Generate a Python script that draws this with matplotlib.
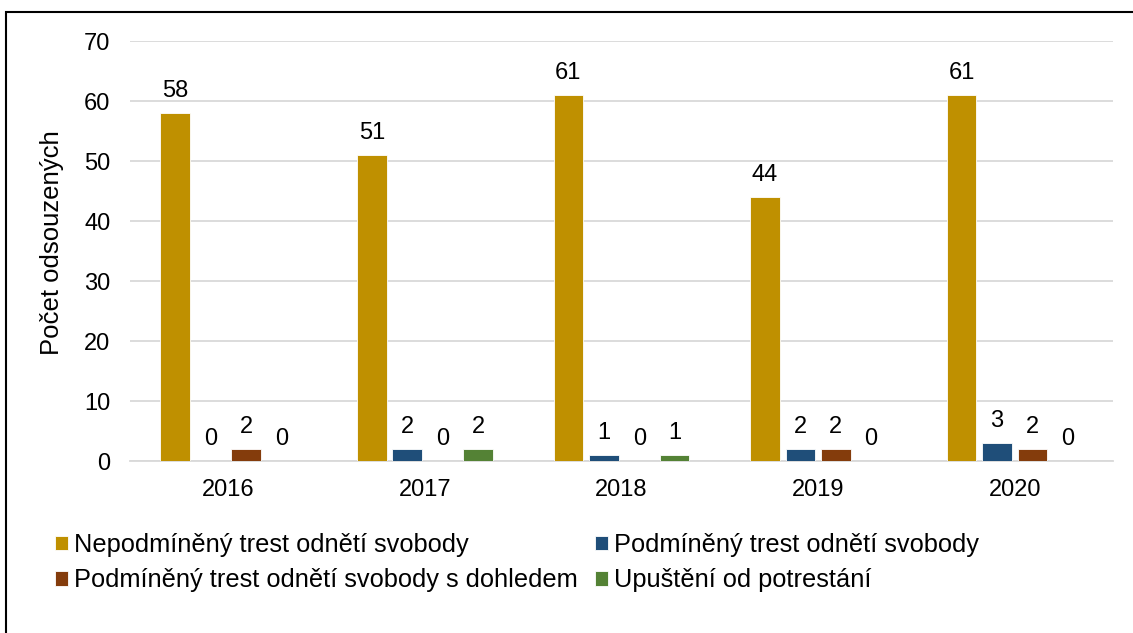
import matplotlib
matplotlib.use("Agg")
import matplotlib.pyplot as plt
from matplotlib.patches import Rectangle
import numpy as np

plt.rcParams['font.family'] = ['Liberation Sans', 'DejaVu Sans']

years = ["2016", "2017", "2018", "2019", "2020"]
series_names = [
    "Nepodmíněný trest odnětí svobody",
    "Podmíněný trest odnětí svobody",
    "Podmíněný trest odnětí svobody s dohledem",
    "Upuštění od potrestání",
]
nepodmineny = [58, 51, 61, 44, 61]
podmineny = [0, 2, 1, 2, 3]
dohled = [2, 0, 0, 2, 2]
upusteni = [0, 2, 1, 0, 0]
colors = ["#BF9000", "#1F4E79", "#843C0C", "#548235"]
ylabel = "Počet odsouzených"

data = [nepodmineny, podmineny, dohled, upusteni]

fig = plt.figure(figsize=(11.33, 6.33), dpi=100)
ax = fig.add_axes([130/1133, (633-461)/633, (1113-130)/1133, (461-41)/633])

x = np.arange(len(years))
pitch = 0.18
width = 0.15
for i, (vals, c, name) in enumerate(zip(data, colors, series_names)):
    pos = x + (i - 1.5) * pitch
    ax.bar(pos, vals, width=width, color=c, label=name, zorder=3,
           edgecolor='white', linewidth=0.6)
    for p, v in zip(pos, vals):
        ax.annotate(str(v), (p, v), xytext=(0, 8), textcoords='offset points',
                    ha='center', va='bottom', fontsize=17, color='black')

ax.set_xlim(-0.5, 4.5)
ax.set_ylim(0, 70)
ax.set_yticks(range(0, 71, 10))
ax.set_xticks(x)
ax.set_xticklabels(years)
ax.tick_params(axis='both', length=0, labelsize=17, colors='black')
ax.tick_params(axis='y', pad=14)
ax.tick_params(axis='x', pad=13)
ax.grid(axis='y', color='#D9D9D9', linewidth=1.3, zorder=0)
for s in ['top', 'right', 'left']:
    ax.spines[s].set_visible(False)
ax.spines['bottom'].set_color('#D9D9D9')
ax.spines['bottom'].set_linewidth(1.3)
ax.set_ylabel(ylabel, fontsize=18.5, va='center')
ax.yaxis.set_label_coords((52 - 130) / 983, 0.52)

handles, labels = ax.get_legend_handles_labels()
order = [0, 2, 1, 3]
leg = fig.legend([handles[i] for i in order], [labels[i] for i in order],
                 ncol=2, loc='upper left',
                 bbox_to_anchor=(55/1133, 1 - 533/633), frameon=False,
                 fontsize=18.3, handlelength=0.5, handleheight=0.5,
                 handletextpad=0.25, columnspacing=0.68, labelspacing=0.45,
                 borderaxespad=0, borderpad=0)

fig.patches.append(Rectangle((6/1133, -0.05), 1.2, 1 - 12/633 + 0.05,
                             transform=fig.transFigure, fill=False,
                             edgecolor='black', linewidth=1.5))

fig.savefig("out.png", dpi=100)
